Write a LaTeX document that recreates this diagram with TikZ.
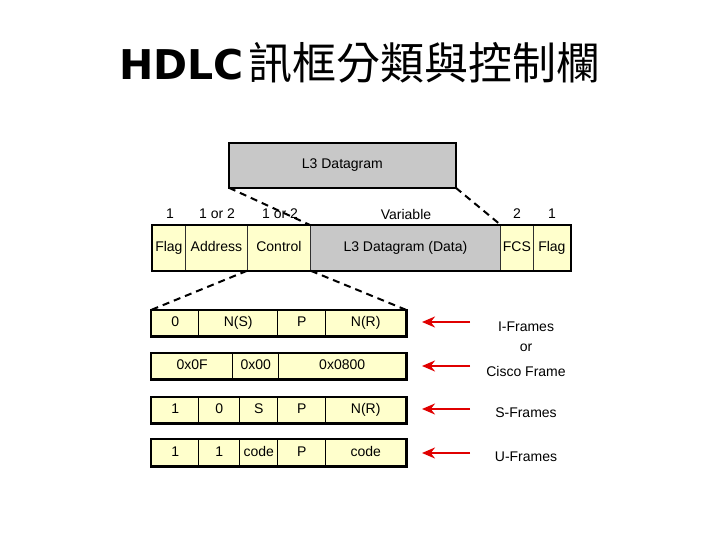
\documentclass[tikz,border=0pt]{standalone}
\usepackage{fontspec}
\setmainfont{Liberation Sans}
\newfontfamily\cjk{Noto Sans CJK TC}
\newfontfamily\heavy{DejaVu Sans}
\usetikzlibrary{arrows.meta}
\definecolor{cellyellow}{HTML}{FFFFCC}
\definecolor{boxgray}{HTML}{C8C8C8}
\definecolor{innerline}{HTML}{303030}
\definecolor{arrowred}{HTML}{E00000}
\tikzset{
  cell/.style={draw=innerline, line width=0.8pt, fill=cellyellow, anchor=north west,
    inner sep=0pt, text height=10pt, text depth=3pt, font=\fontsize{14}{16}\selectfont},
  rowcell/.style={cell, draw=black, line width=1.4pt},
  graycell/.style={cell, fill=boxgray},
  outer/.style={draw=black, line width=2.2pt},
  lbl/.style={font=\fontsize{14}{16}\selectfont, inner sep=0pt},
  conn/.style={draw=black, line width=2pt, dash pattern=on 7pt off 5pt},
  redarrow/.style={draw=arrowred, line width=2.2pt, -{Stealth[length=13pt,width=11pt]}}
}
\begin{document}
\begin{tikzpicture}[x=1pt,y=-1pt]
\useasboundingbox (0,0) rectangle (720,540);

% title
\node[anchor=base west, inner sep=0pt] (title) at (119,80)
  {\heavy\bfseries\fontsize{41}{44}\selectfont HDLC\hspace{5pt}\cjk\mdseries\fontsize{44}{46}\selectfont 訊框分類與控制欄};

% L3 Datagram box
\node[graycell, minimum width=226pt, minimum height=44pt] (l3) at (229,143) {L3 Datagram};
\draw[outer] (l3.north west) rectangle (l3.south east);

% HDLC frame row
\node[cell, minimum width=33pt, minimum height=45pt] (flag1) at (152,225) {Flag};
\node[cell, minimum width=62pt, minimum height=45pt] (addr) at (185,225) {Address};
\node[cell, minimum width=63pt, minimum height=45pt] (ctrl) at (247,225) {Control};
\node[graycell, minimum width=190pt, minimum height=45pt] (data) at (310,225) {L3 Datagram (Data)};
\node[cell, minimum width=33pt, minimum height=45pt] (fcs) at (500,225) {FCS};
\node[cell, minimum width=37pt, minimum height=45pt] (flag2) at (533,225) {Flag};
\draw[outer] (flag1.north west) rectangle (flag2.south east);

% sizes
\node[lbl] (s1) at (170,214) {1};
\node[lbl] (s2) at (217,214) {1 or 2};
\node[lbl] (s3) at (280,214) {1 or 2};
\node[lbl] (s4) at (406,214) {Variable};
\node[lbl] (s5) at (517,214) {2};
\node[lbl] (s6) at (552,214) {1};

% I-frame row
\node[rowcell, minimum width=47pt, minimum height=25pt] (i1) at (151,310) {0};
\node[rowcell, minimum width=79pt, minimum height=25pt] (i2) at (198,310) {N(S)};
\node[rowcell, minimum width=48pt, minimum height=25pt] (i3) at (277,310) {P};
\node[rowcell, minimum width=80pt, minimum height=25pt] (i4) at (325,310) {N(R)};
\draw[outer] (i1.north west) rectangle (i4.south east);

% Cisco row
\node[rowcell, minimum width=81pt, minimum height=25pt] (c1) at (151,353) {0x0F};
\node[rowcell, minimum width=46pt, minimum height=25pt] (c2) at (232,353) {0x00};
\node[rowcell, minimum width=127pt, minimum height=25pt] (c3) at (278,353) {0x0800};
\draw[outer] (c1.north west) rectangle (c3.south east);

% S-frame row
\node[rowcell, minimum width=47pt, minimum height=25pt] (sa) at (151,397) {1};
\node[rowcell, minimum width=41pt, minimum height=25pt] (sb) at (198,397) {0};
\node[rowcell, minimum width=38pt, minimum height=25pt] (sc) at (239,397) {S};
\node[rowcell, minimum width=48pt, minimum height=25pt] (sd) at (277,397) {P};
\node[rowcell, minimum width=80pt, minimum height=25pt] (se) at (325,397) {N(R)};
\draw[outer] (sa.north west) rectangle (se.south east);

% U-frame row
\node[rowcell, minimum width=47pt, minimum height=26pt] (ua) at (151,439) {1};
\node[rowcell, minimum width=41pt, minimum height=26pt] (ub) at (198,439) {1};
\node[rowcell, minimum width=38pt, minimum height=26pt] (uc) at (239,439) {code};
\node[rowcell, minimum width=48pt, minimum height=26pt] (ud) at (277,439) {P};
\node[rowcell, minimum width=80pt, minimum height=26pt] (ue) at (325,439) {code};
\draw[outer] (ua.north west) rectangle (ue.south east);

% dashed connectors
\draw[conn] (l3.south west) -- (data.north west);
\draw[conn] (l3.south east) -- (data.north east);
\draw[conn] (ctrl.south west) -- (i1.north west);
\draw[conn] (ctrl.south east) -- (i4.north east);

% labels on the right
\node[lbl] (li) at (526,327) {I-Frames};
\node[lbl] (lor) at (526,348) {or};
\node[lbl] (lc) at (526,371) {Cisco Frame};
\node[lbl] (ls) at (526,413) {S-Frames};
\node[lbl] (lu) at (526,457) {U-Frames};

% red arrows
\coordinate (a1s) at (470,322); \coordinate (a1e) at (422,322);
\coordinate (a2s) at (470,366); \coordinate (a2e) at (422,366);
\coordinate (a3s) at (470,409); \coordinate (a3e) at (422,409);
\coordinate (a4s) at (470,453); \coordinate (a4e) at (422,453);
\draw[redarrow] (a1s) -- (a1e);
\draw[redarrow] (a2s) -- (a2e);
\draw[redarrow] (a3s) -- (a3e);
\draw[redarrow] (a4s) -- (a4e);
\end{tikzpicture}
\end{document}
